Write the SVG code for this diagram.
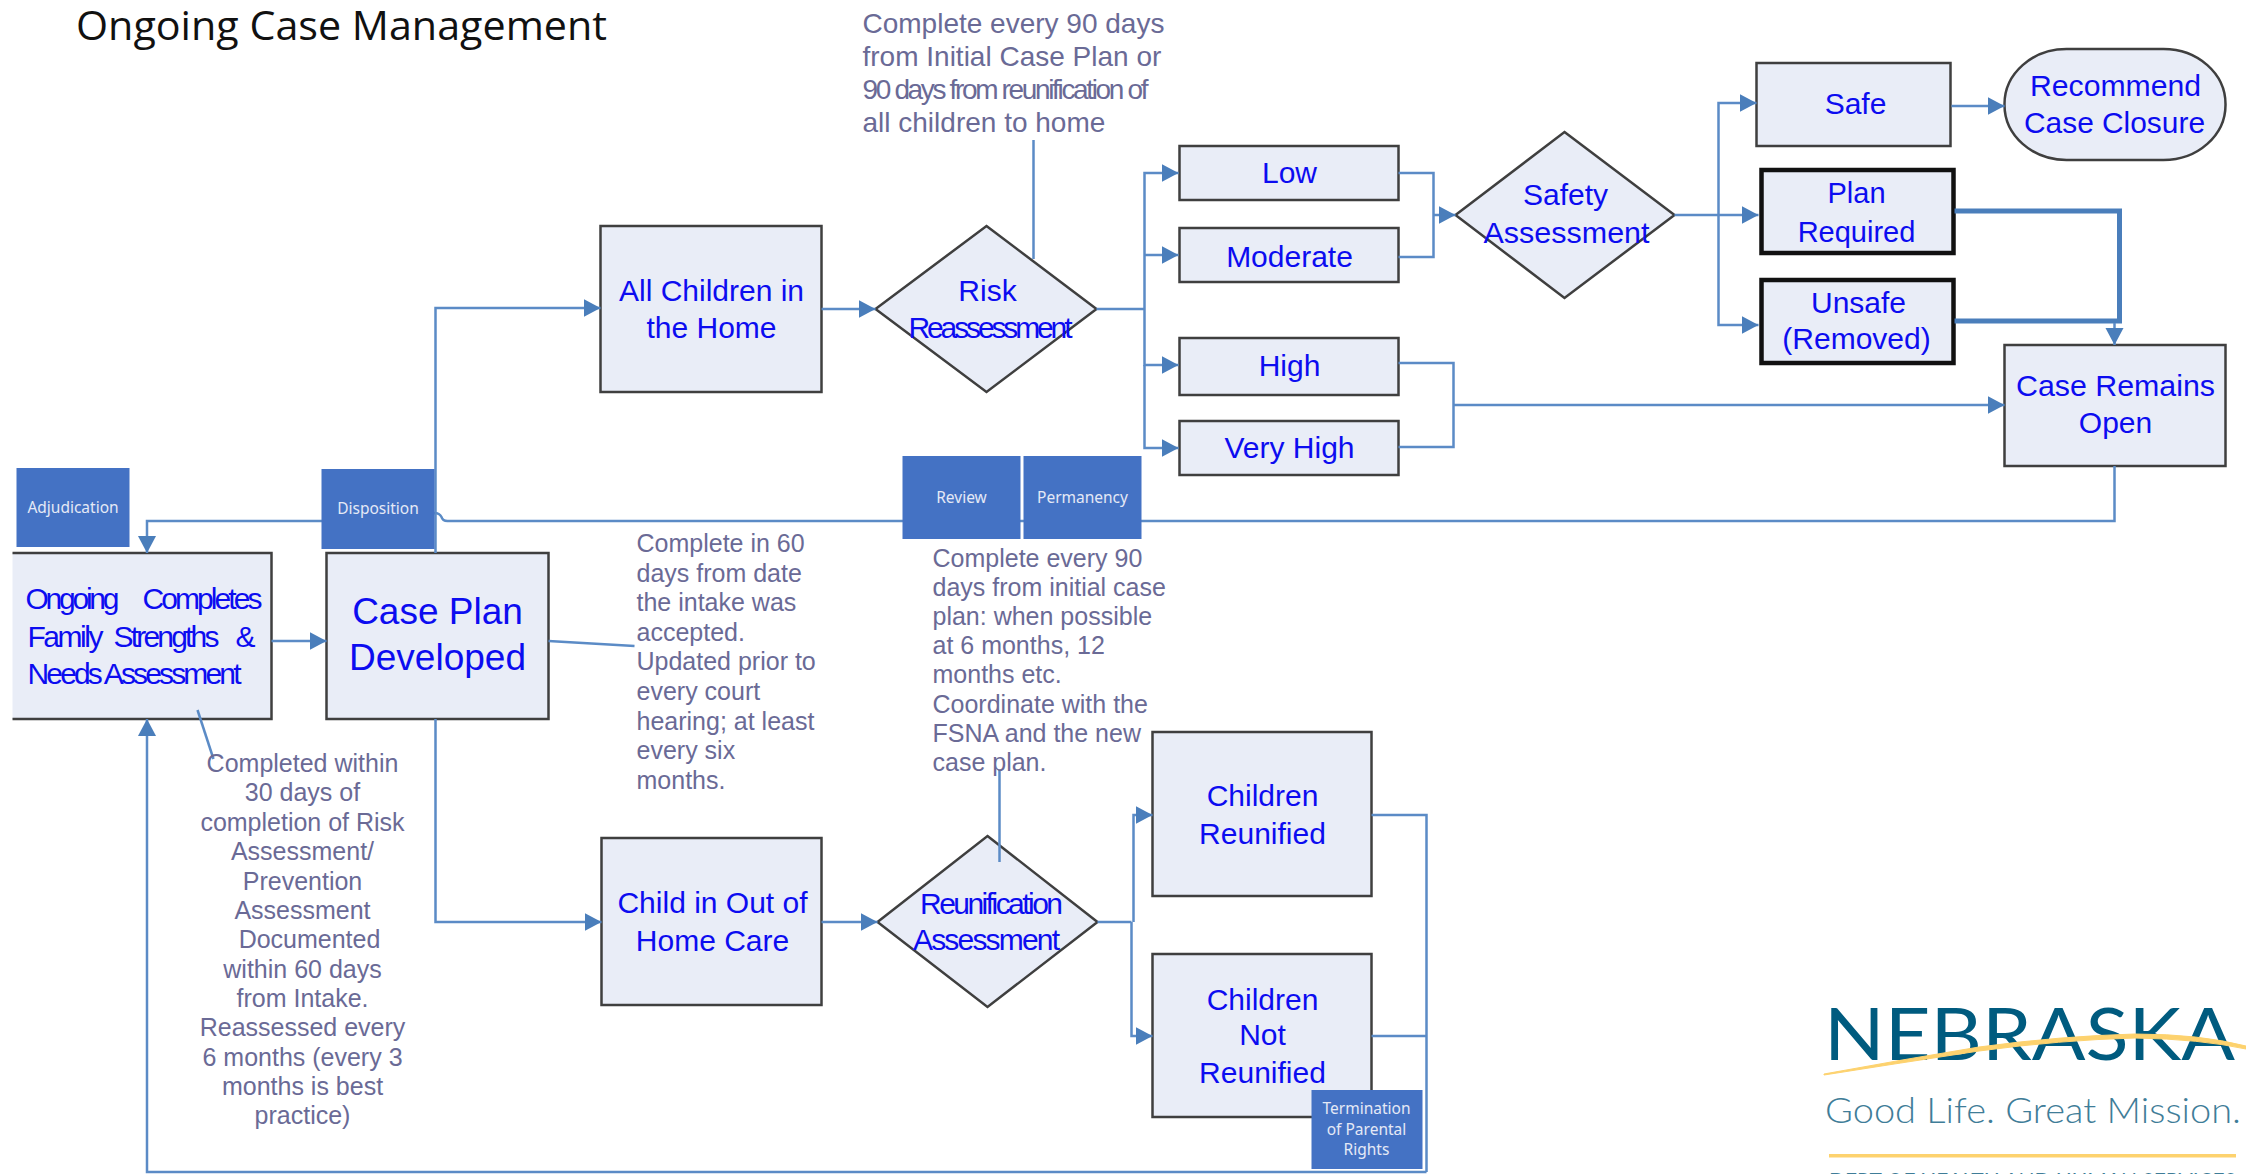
<svg xmlns="http://www.w3.org/2000/svg" width="2246" height="1174" viewBox="0 0 2246 1174">
<style>
.b{fill:#e9edf7;stroke:#3f3f3f;stroke-width:2.5}
.h{fill:#e9edf7;stroke:#111;stroke-width:4.5}
.t{font-family:"Liberation Sans",Arial,sans-serif;font-size:30px;fill:#0c0cf0;text-anchor:middle}
.n{font-family:"Liberation Sans",Arial,sans-serif;font-size:25px;fill:#6a6a96}
.nc{text-anchor:middle}
.lb{fill:#4472c4}
.l{font-family:"Noto Sans","Open Sans",sans-serif;font-size:15.5px;fill:#e4e9f6;text-anchor:middle}
.c{fill:none;stroke:#5b8bc6;stroke-width:2.5}
.a{marker-end:url(#ah)}
.th{fill:none;stroke:#4a7ebb;stroke-width:5}
</style>
<defs>
<marker id="ah" markerUnits="userSpaceOnUse" markerWidth="18" markerHeight="20" refX="17" refY="9" orient="auto"><path d="M0 0L17 9L0 18Z" fill="#4a7ebb"/></marker>
</defs>
<rect width="2246" height="1174" fill="#fff"/>
<text x="76" y="40" font-family="'Open Sans',sans-serif" font-size="41" fill="#111" textLength="531" lengthAdjust="spacingAndGlyphs">Ongoing Case Management</text>

<g transform="translate(0.5,1)">
<g id="node-ongoing"><path class="b" d="M12 552H271V718H12" /><text class="t"><tspan x="72" y="608" textLength="94">Ongoing</tspan></text><text class="t"><tspan x="202" y="608" textLength="120">Completes</tspan></text><text class="t"><tspan x="65" y="646" textLength="76">Family</tspan></text><text class="t"><tspan x="166" y="646" textLength="106">Strengths</tspan></text><text class="t"><tspan x="245" y="646">&amp;</tspan></text><text class="t" x="134" y="683" textLength="214">Needs Assessment</text></g>
<g id="node-caseplan"><rect class="b" x="326" y="552" width="222" height="166"/><text class="t" style="font-size:37px" x="437" y="623">Case Plan</text><text class="t" style="font-size:37px" x="437" y="669">Developed</text></g>
<g id="node-allchildren"><rect class="b" x="600" y="225" width="221" height="166"/><text class="t" x="711" y="300">All Children in</text><text class="t" x="711" y="337">the Home</text></g>
<g id="node-risk"><path class="b" d="M986 225L1096 308L986 391L875 308Z"/><text class="t" x="987" y="300">Risk</text><text class="t" x="990" y="337" textLength="164">Reassessment</text></g>
<g id="node-low"><rect class="b" x="1179" y="145" width="219" height="54"/><text class="t" x="1289" y="182">Low</text></g>
<g id="node-moderate"><rect class="b" x="1179" y="227" width="219" height="54"/><text class="t" x="1289" y="266">Moderate</text></g>
<g id="node-high"><rect class="b" x="1179" y="337" width="219" height="57"/><text class="t" x="1289" y="375">High</text></g>
<g id="node-veryhigh"><rect class="b" x="1179" y="420" width="219" height="54"/><text class="t" x="1289" y="457">Very High</text></g>
<g id="node-safety"><path class="b" d="M1564 131L1674 214L1564 297L1455 214Z"/><text class="t" x="1565" y="204">Safety</text><text class="t" x="1566" y="242" textLength="166" lengthAdjust="spacingAndGlyphs">Assessment</text></g>
<g id="node-safe"><rect class="b" x="1756" y="62" width="194" height="83"/><text class="t" x="1855" y="113">Safe</text></g>
<g id="node-recommend"><rect class="b" x="2004" y="48" width="221" height="111" rx="62" ry="55"/><text class="t" x="2115" y="95" textLength="171" lengthAdjust="spacingAndGlyphs">Recommend</text><text class="t" x="2114" y="132" textLength="181" lengthAdjust="spacingAndGlyphs">Case Closure</text></g>
<g id="node-plan"><rect class="h" x="1761" y="169" width="192" height="83"/><text class="t" x="1856" y="202" style="font-size:29px">Plan</text><text class="t" x="1856" y="241" style="font-size:29px">Required</text></g>
<g id="node-unsafe"><rect class="h" x="1761" y="279" width="192" height="83"/><text class="t" x="1858" y="312">Unsafe</text><text class="t" x="1856" y="348">(Removed)</text></g>
<g id="node-remains"><rect class="b" x="2004" y="344" width="221" height="121"/><text class="t" x="2115" y="395" textLength="199" lengthAdjust="spacingAndGlyphs">Case Remains</text><text class="t" x="2115" y="432">Open</text></g>
<g id="node-outofhome"><rect class="b" x="601" y="837" width="220" height="167"/><text class="t" x="712" y="912">Child in Out of</text><text class="t" x="712" y="950">Home Care</text></g>
<g id="node-reunif"><path class="b" d="M987 835L1097 921L987 1006L877 921Z"/><text class="t" x="991" y="913" textLength="143">Reunification</text><text class="t" x="986" y="949" textLength="147">Assessment</text></g>
<g id="node-reunified"><rect class="b" x="1152" y="731" width="219" height="164"/><text class="t" x="1262" y="805">Children</text><text class="t" x="1262" y="843">Reunified</text></g>
<g id="node-notreunified"><rect class="b" x="1152" y="953" width="219" height="163"/><text class="t" x="1262" y="1009">Children</text><text class="t" x="1262" y="1044">Not</text><text class="t" x="1262" y="1082">Reunified</text></g>

<g id="connectors">
<path class="c a" d="M2114 465V520H447Q442 520 441 516Q439 512 434 512L400 520H146.500V552" />
<path class="c a" d="M271 640H326"/>
<path class="c a" d="M435 552V307H600"/>
<path class="c a" d="M435 718V921H601"/>
<path class="c a" d="M821 308H875"/>
<path class="c" d="M1096 308H1144"/>
<path class="c a" d="M1144 308V172H1178"/>
<path class="c a" d="M1144 254H1178"/>
<path class="c a" d="M1144 308V364H1178"/>
<path class="c a" d="M1144 364V447H1178"/>
<path class="c" d="M1398 172H1433V256H1398"/>
<path class="c a" d="M1433 214H1455"/>
<path class="c" d="M1398 362H1453V446H1398"/>
<path class="c a" d="M1453 404H2004"/>
<path class="c" d="M1674 214H1718"/>
<path class="c a" d="M1718 214V102H1756"/>
<path class="c a" d="M1718 214H1758"/>
<path class="c a" d="M1718 214V324H1758"/>
<path class="c a" d="M1951 105H2004"/>
<path class="th" d="M1954 210H2119V320H1954"/>
<path class="c a" d="M2114 322V344"/>
<path class="c a" d="M821 921H877"/>
<path class="c" d="M1097 921H1131"/>
<path class="c a" d="M1133 921V814H1152"/>
<path class="c a" d="M1131 921V1035H1152"/>
<path class="c" d="M1371 814H1426V1171"/>
<path class="c" d="M1371 1035H1426"/>
<path class="c a" d="M1426 1171H146.500V718"/>
<path class="c" d="M548 640L634 645"/>
<path class="c" d="M197 709L213 758"/>
<path class="c" d="M1033 139V258"/>
<path class="c" d="M999 769V861"/>
</g>

<g id="label-adjudication"><rect class="lb" x="16" y="467" width="113" height="79"/><text class="l" x="72.500" y="512">Adjudication</text></g>
<g id="label-disposition"><rect class="lb" x="321" y="468" width="113" height="80"/><text class="l" x="377.500" y="513">Disposition</text></g>
<g id="label-review"><rect class="lb" x="902" y="455" width="118" height="83"/><text class="l" x="961" y="502">Review</text></g>
<g id="label-permanency"><rect class="lb" x="1023" y="455" width="118" height="83"/><text class="l" x="1082" y="502">Permanency</text></g>
<g id="label-termination"><rect class="lb" x="1311" y="1089" width="111" height="79"/><text class="l" x="1366" y="1113">Termination</text><text class="l" x="1366" y="1134">of Parental</text><text class="l" x="1366" y="1154">Rights</text></g>

<g id="note-risk"><text class="n" style="font-size:28px"><tspan x="862" y="32">Complete every 90 days</tspan><tspan x="862" y="65">from Initial Case Plan or</tspan><tspan x="862" y="98" textLength="286">90 days from reunification of</tspan><tspan x="862" y="131">all children to home</tspan></text></g>
<g id="note-caseplan"><text class="n"><tspan x="636" y="551">Complete in 60</tspan><tspan x="636" y="581">days from date</tspan><tspan x="636" y="610">the intake was</tspan><tspan x="636" y="640">accepted.</tspan><tspan x="636" y="669">Updated prior to</tspan><tspan x="636" y="699">every court</tspan><tspan x="636" y="729">hearing; at least</tspan><tspan x="636" y="758">every six</tspan><tspan x="636" y="788">months.</tspan></text></g>
<g id="note-fsna"><text class="n nc"><tspan x="302" y="771">Completed within</tspan><tspan x="302" y="800">30 days of</tspan><tspan x="302" y="830">completion of Risk</tspan><tspan x="302" y="859">Assessment/</tspan><tspan x="302" y="889">Prevention</tspan><tspan x="302" y="918">Assessment</tspan><tspan x="309" y="947">Documented</tspan><tspan x="302" y="977">within 60 days</tspan><tspan x="302" y="1006">from Intake.</tspan><tspan x="302" y="1035">Reassessed every</tspan><tspan x="302" y="1065">6 months (every 3</tspan><tspan x="302" y="1094">months is best</tspan><tspan x="302" y="1123">practice)</tspan></text></g>
<g id="note-review"><text class="n"><tspan x="932" y="566">Complete every 90</tspan><tspan x="932" y="595">days from initial case</tspan><tspan x="932" y="624">plan: when possible</tspan><tspan x="932" y="653">at 6 months, 12</tspan><tspan x="932" y="682">months etc.</tspan><tspan x="932" y="712">Coordinate with the</tspan><tspan x="932" y="741">FSNA and the new</tspan><tspan x="932" y="770">case plan.</tspan></text></g>
</g>

<g id="logo">
<text x="1824" y="1060" font-family="Lato,sans-serif" font-size="71" fill="#005b7f" textLength="411" lengthAdjust="spacingAndGlyphs">NEBRASKA</text>
<path d="M1824 1074Q1900 1060 1979 1047Q2060 1036 2135 1034Q2200 1034 2246 1046L2246 1049Q2200 1039 2135 1038Q2060 1040 1979 1051Q1900 1063 1824 1075Z" fill="#fdd26e" stroke="#fdd26e"/>
<text x="1825" y="1123" font-family="Lato,sans-serif" font-weight="300" font-size="36" fill="#3f7d98" textLength="416" lengthAdjust="spacingAndGlyphs">Good Life. Great Mission.</text>
<rect x="1829" y="1154" width="407" height="3.500" fill="#fdd26e"/>
<text x="1829" y="1190" font-family="Lato,sans-serif" font-size="24" fill="#3f7d98" textLength="407" lengthAdjust="spacingAndGlyphs">DEPT OF HEALTH AND HUMAN SERVICES</text>
</g>
</svg>
